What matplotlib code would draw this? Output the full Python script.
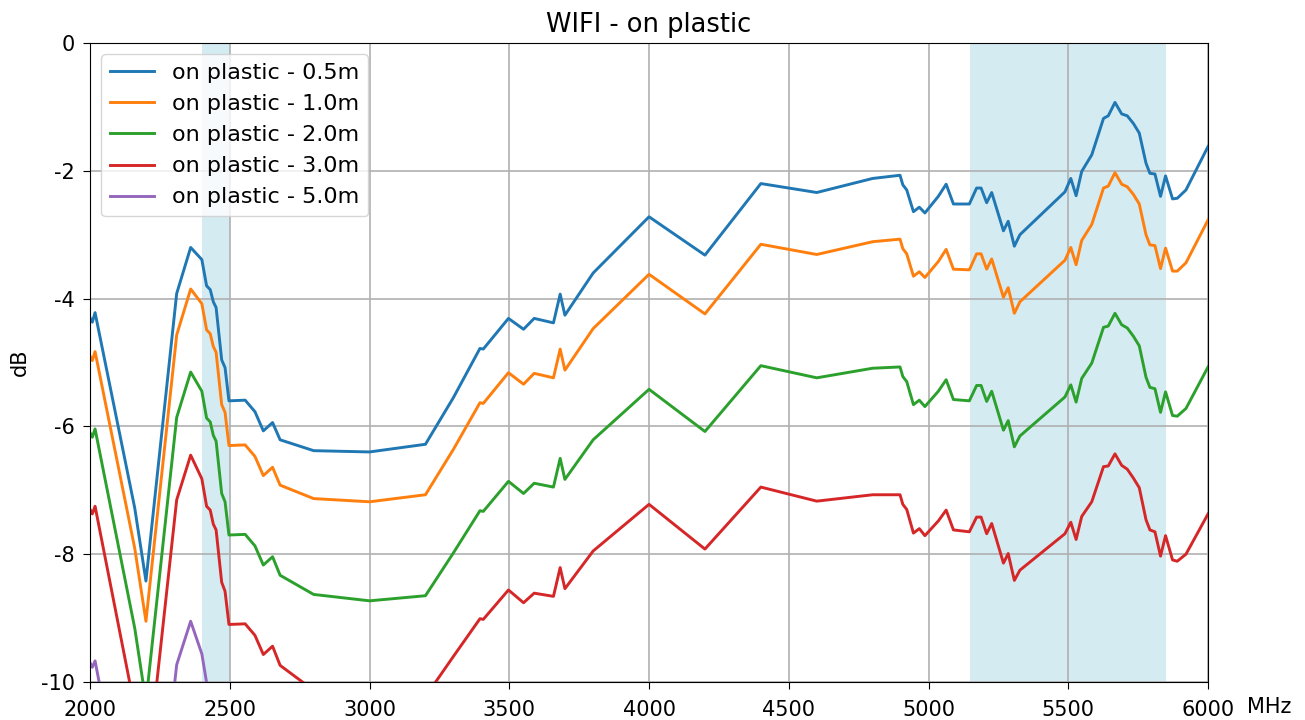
import matplotlib
matplotlib.use("Agg")
import matplotlib.pyplot as plt

plt.rcParams["axes.unicode_minus"] = False

# frequences (MHz)
freq = [2000, 2008, 2018, 2160, 2200, 2310, 2360, 2400, 2417, 2430, 2441, 2451, 2471, 2483, 2497,
        2555, 2590, 2620, 2653, 2680, 2800, 3000, 3200, 3300, 3395, 3407, 3497, 3551, 3589, 3658,
        3682, 3699, 3800, 4000, 4200, 4400, 4600, 4800, 4898, 4908, 4922, 4946, 4967, 4987, 5035,
        5063, 5089, 5146, 5172, 5188, 5208, 5226, 5268, 5285, 5307, 5327, 5488, 5509, 5528, 5548,
        5584, 5626, 5643, 5667, 5691, 5711, 5733, 5754, 5778, 5792, 5810, 5830, 5848, 5873, 5890,
        5921, 6000]

d05 = [-4.30, -4.37, -4.22, -7.28, -8.42, -3.92, -3.20, -3.39, -3.80, -3.86, -4.05, -4.14, -4.96, -5.08, -5.60,
       -5.59, -5.77, -6.07, -5.94, -6.21, -6.38, -6.40, -6.28, -5.55, -4.78, -4.79, -4.31, -4.48, -4.31, -4.38,
       -3.93, -4.26, -3.60, -2.72, -3.32, -2.20, -2.34, -2.12, -2.07, -2.22, -2.30, -2.64, -2.57, -2.66, -2.40,
       -2.21, -2.52, -2.52, -2.27, -2.27, -2.50, -2.34, -2.94, -2.79, -3.18, -3.00, -2.33, -2.12, -2.39, -2.01,
       -1.75, -1.18, -1.14, -0.93, -1.11, -1.14, -1.26, -1.41, -1.88, -2.04, -2.05, -2.40, -2.08, -2.44, -2.43,
       -2.30, -1.62]

d10 = [-4.90, -4.97, -4.83, -7.91, -9.05, -4.57, -3.85, -4.08, -4.49, -4.55, -4.75, -4.84, -5.66, -5.78, -6.30,
       -6.29, -6.47, -6.77, -6.64, -6.92, -7.13, -7.18, -7.07, -6.36, -5.63, -5.64, -5.16, -5.34, -5.17, -5.24,
       -4.79, -5.12, -4.47, -3.62, -4.24, -3.15, -3.31, -3.11, -3.07, -3.22, -3.30, -3.65, -3.58, -3.67, -3.42,
       -3.23, -3.54, -3.55, -3.30, -3.30, -3.54, -3.38, -3.98, -3.83, -4.23, -4.05, -3.40, -3.20, -3.47, -3.09,
       -2.84, -2.27, -2.24, -2.03, -2.21, -2.25, -2.37, -2.52, -3.00, -3.16, -3.17, -3.53, -3.21, -3.57, -3.57,
       -3.44, -2.77]

d20 = [-6.10, -6.17, -6.04, -9.16, -10.31, -5.86, -5.15, -5.45, -5.87, -5.93, -6.14, -6.23, -7.05, -7.18, -7.70,
       -7.69, -7.87, -8.17, -8.04, -8.33, -8.63, -8.73, -8.65, -7.98, -7.32, -7.33, -6.86, -7.05, -6.89, -6.95,
       -6.50, -6.83, -6.21, -5.42, -6.08, -5.05, -5.24, -5.09, -5.07, -5.22, -5.30, -5.66, -5.59, -5.69, -5.45,
       -5.27, -5.58, -5.60, -5.36, -5.36, -5.61, -5.45, -6.06, -5.91, -6.32, -6.15, -5.54, -5.35, -5.62, -5.25,
       -5.01, -4.45, -4.43, -4.23, -4.41, -4.46, -4.59, -4.74, -5.23, -5.39, -5.41, -5.78, -5.46, -5.83, -5.84,
       -5.72, -5.07]

d30 = [-7.30, -7.37, -7.25, -10.41, -11.57, -7.15, -6.45, -6.82, -7.25, -7.31, -7.53, -7.62, -8.44, -8.58, -9.10,
       -9.09, -9.27, -9.57, -9.44, -9.74, -10.13, -10.28, -10.23, -9.60, -9.01, -9.02, -8.56, -8.76, -8.61, -8.66,
       -8.21, -8.54, -7.95, -7.22, -7.92, -6.95, -7.17, -7.07, -7.07, -7.22, -7.30, -7.67, -7.60, -7.71, -7.48,
       -7.31, -7.62, -7.65, -7.42, -7.42, -7.68, -7.52, -8.14, -7.99, -8.41, -8.25, -7.68, -7.50, -7.77, -7.41,
       -7.18, -6.63, -6.62, -6.43, -6.61, -6.67, -6.81, -6.96, -7.46, -7.62, -7.65, -8.03, -7.71, -8.09, -8.11,
       -8.00, -7.37]

d50 = [-9.70, -9.77, -9.67, -12.91, -14.09, -9.73, -9.05, -9.56, -10.01, -10.07, -10.31, -10.40, -11.22, -11.38, -11.90,
       -11.89, -12.07, -12.37, -12.24, -12.56, -13.13, -13.38, -13.39, -12.84, -12.39, -12.40, -11.96, -12.18, -12.05, -12.08,
       -11.63, -11.96, -11.43, -10.82, -11.60, -10.75, -11.03, -11.03, -11.07, -11.22, -11.30, -11.69, -11.62, -11.75, -11.54,
       -11.39, -11.70, -11.75, -11.54, -11.54, -11.82, -11.66, -12.30, -12.15, -12.59, -12.45, -11.96, -11.80, -12.07, -11.73,
       -11.52, -10.99, -11.00, -10.83, -11.01, -11.09, -11.25, -11.40, -11.92, -12.08, -12.13, -12.53, -12.21, -12.61, -12.65,
       -12.56, -11.97]

labels = ["on plastic - 0.5m", "on plastic - 1.0m", "on plastic - 2.0m",
          "on plastic - 3.0m", "on plastic - 5.0m"]
bandes = [(2400, 2500), (5150, 5850)]

fig = plt.figure(figsize=(13.05, 7.2), dpi=100)
ax = fig.add_axes([0.069, 0.0528, 0.8567, 0.8875])

for lo, hi in bandes:
    ax.axvspan(lo, hi, color="lightblue", alpha=0.5, lw=0)

for serie, lab in zip([d05, d10, d20, d30, d50], labels):
    ax.plot(freq, serie, lw=2.1, label=lab)

ax.set_xlim(2000, 6000)
ax.set_ylim(-10, 0)
ax.set_xticks(range(2000, 6001, 500))
ax.set_yticks(range(-10, 1, 2))
ax.tick_params(labelsize=15, length=5)
ax.tick_params(axis="x", pad=8)
ax.tick_params(axis="y", pad=6)
ax.grid(True, lw=1.2)
ax.set_title("WIFI - on plastic", fontsize=18.5, pad=8)
ax.set_ylabel("dB", fontsize=15, labelpad=8)
ax.text(1.035, -0.0485, "MHz", transform=ax.transAxes, ha="left", va="baseline", fontsize=15)
ax.legend(loc="upper left", fontsize=16)

fig.savefig("out.png", dpi=100)
